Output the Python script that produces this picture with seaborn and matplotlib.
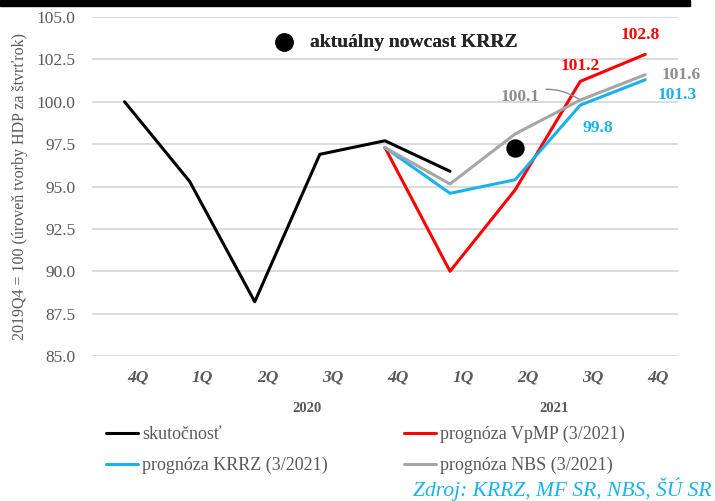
import pandas as pd
import matplotlib.pyplot as plt
import matplotlib.transforms as mtransforms
import seaborn as sns
from matplotlib.lines import Line2D

quarters = ['4Q', '1Q', '2Q', '3Q', '4Q', '1Q', '2Q', '3Q', '4Q']
years = ['2020', '2021']

skutocnost = [100.0, 95.3, 88.2, 96.9, 97.7, 95.9]
vpmp = [97.3, 90.0, 94.8, 101.2, 102.8]
krrz = [97.3, 94.6, 95.4, 99.8, 101.3]
nbs = [97.3, 95.15, 98.1, 100.1, 101.6]
nowcast = 97.3

serif = ['Liberation Serif', 'DejaVu Serif']
grey = '#595959'

sns.set_style('white')
plt.rcParams['font.family'] = serif

fig = plt.figure(figsize=(7.15, 5.01), dpi=100)
ax = fig.add_axes([0.1287, 0.2894, 0.8193, 0.6766])

def frame(vals, start):
    return pd.DataFrame({'x': list(range(start, start + len(vals))), 'y': vals})

series = [
    (frame(skutocnost, 0), 'black', 'skutočnosť'),
    (frame(vpmp, 4), '#ff0000', 'prognóza VpMP (3/2021)'),
    (frame(krrz, 4), '#1ab2ec', 'prognóza KRRZ (3/2021)'),
    (frame(nbs, 4), '#a6a6a6', 'prognóza NBS (3/2021)'),
]
for df, c, lab in series:
    sns.lineplot(data=df, x='x', y='y', color=c, lw=2.2, ax=ax, label=lab, legend=False)

nc = ax.scatter([6], [nowcast], s=150, color='black', zorder=5, label='aktuálny nowcast KRRZ')

ax.set_xlim(-0.5, 8.5)
ax.set_ylim(85, 105)
ax.set_yticks([85 + 2.5 * i for i in range(9)])
ax.set_yticklabels(['%.1f' % (85 + 2.5 * i) for i in range(9)], color=grey, fontsize=12.5)
ax.set_xticks(range(9))
ax.set_xticklabels(quarters, color=grey, fontsize=12.5, style='italic', fontweight='bold')
ax.tick_params(length=0, pad=10)
ax.tick_params(axis='y', pad=12)
shift = mtransforms.ScaledTranslation(0.13, 0, fig.dpi_scale_trans)
for t in ax.get_xticklabels():
    t.set_transform(t.get_transform() + shift)
ax.grid(axis='y', color='#d9d9d9', lw=1.3)
for s in ax.spines.values():
    s.set_visible(False)
ax.set_xlabel('')
ax.set_ylabel('2019Q4 = 100 (úroveň tvorby HDP za štvrťrok)', color=grey, fontsize=11.5, labelpad=6)

# year labels
ax.text(2.8, -0.165, years[0], transform=ax.get_xaxis_transform(), ha='center',
        color=grey, fontsize=10.5, fontweight='bold')
ax.text(6.6, -0.165, years[1], transform=ax.get_xaxis_transform(), ha='center',
        color=grey, fontsize=10.5, fontweight='bold')

# value labels
red, blue, gr = '#ff0000', '#1ab2ec', '#8c8c8c'
ax.annotate('%.1f' % vpmp[4], xy=(8, vpmp[4]), xytext=(-3.6, 14), textcoords='offset points',
            ha='center', va='center', color=red, fontsize=12.5, fontweight='bold')
ax.annotate('%.1f' % vpmp[3], xy=(7, vpmp[3]), xytext=(0, 11), textcoords='offset points',
            ha='center', va='center', color=red, fontsize=12.5, fontweight='bold')
ax.annotate('%.1f' % nbs[3], xy=(7, nbs[3]), xytext=(-43, 2.5), textcoords='offset points',
            ha='center', va='center', color=gr, fontsize=12.5, fontweight='bold',
            arrowprops=dict(arrowstyle='-', color=gr, lw=1, shrinkA=2, shrinkB=1,
                            connectionstyle='arc3,rad=-0.3'))
ax.annotate('%.1f' % nbs[4], xy=(8, nbs[4]), xytext=(12, 0), textcoords='offset points',
            ha='left', va='center', color=gr, fontsize=12.5, fontweight='bold')
ax.annotate('%.1f' % krrz[4], xy=(8, krrz[4]), xytext=(9, -11), textcoords='offset points',
            ha='left', va='center', color=blue, fontsize=12.5, fontweight='bold')
ax.annotate('%.1f' % krrz[3], xy=(7, krrz[3]), xytext=(13, -16.5), textcoords='offset points',
            ha='center', va='center', color=blue, fontsize=12.5, fontweight='bold')

# nowcast legend
leg1 = ax.legend(handles=[nc], loc='center left', bbox_to_anchor=(0.282, 0.925), frameon=False,
                 handletextpad=0.3, borderaxespad=0, prop={'size': 14, 'weight': 'bold'})
ax.add_artist(leg1)

# series legend
handles = [Line2D([], [], color=c, lw=2.2) for _, c, _ in series]
labels = [lab for _, _, lab in series]
order = [0, 2, 1, 3]
fig.legend([handles[i] for i in order], [labels[i] for i in order], ncol=2,
           loc='upper left', bbox_to_anchor=(0.148, 0.15), frameon=False,
           prop={'size': 13}, handlelength=1.8, handletextpad=0.2, columnspacing=4.2,
           labelspacing=0.75, borderaxespad=0, borderpad=0, labelcolor=grey)

# top black band
fig.patches.append(plt.Rectangle((0, 0.988), 0.965, 0.012, transform=fig.transFigure,
                                 color='black', zorder=10))

fig.text(0.995, 0.0, 'Zdroj: KRRZ, MF SR, NBS, ŠÚ SR', ha='right', va='bottom',
         color='#1ab2ec', fontsize=15.5, style='italic')

fig.savefig('out.png', dpi=100)
